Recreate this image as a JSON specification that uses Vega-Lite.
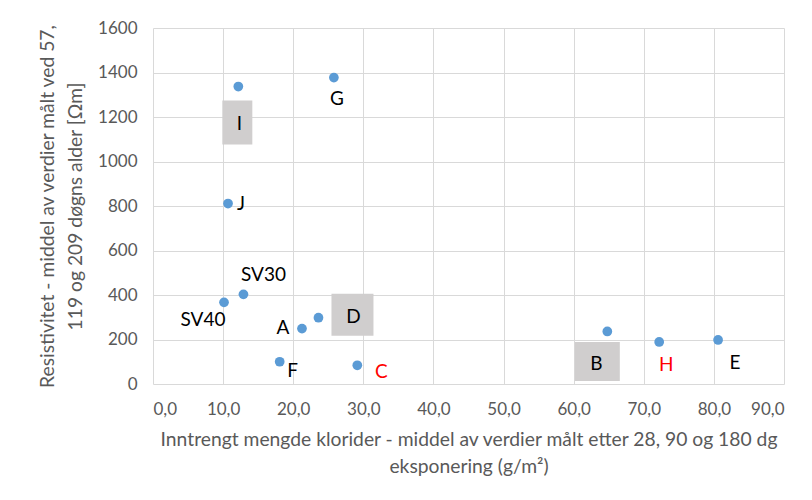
{
  "$schema": "https://vega.github.io/schema/vega-lite/v6.json",
  "autosize": "none",
  "width": 631,
  "height": 356,
  "padding": {"left": 153, "top": 28, "right": 28, "bottom": 116},
  "background": "white",
  "config": {
    "font": "Lato",
    "view": {"stroke": null},
    "axis": {
      "grid": true,
      "gridColor": "#D9D9D9",
      "domain": false,
      "ticks": false,
      "labelColor": "#595959",
      "labelFont": "Lato",
      "labelFontSize": 17,
      "titleColor": "#595959",
      "titleFont": "Lato",
      "titleFontSize": 19.3,
      "titleFontWeight": "normal"
    }
  },
  "data": {
    "values": [
      {"label": "I", "x": 12.17, "y": 1337},
      {"label": "G", "x": 25.8, "y": 1377},
      {"label": "J", "x": 10.7, "y": 811},
      {"label": "SV40", "x": 10.13, "y": 367},
      {"label": "SV30", "x": 12.9, "y": 403},
      {"label": "A", "x": 21.25, "y": 249},
      {"label": "D", "x": 23.6, "y": 298},
      {"label": "F", "x": 18.07, "y": 100},
      {"label": "C", "x": 29.14, "y": 84},
      {"label": "B", "x": 64.8, "y": 236},
      {"label": "H", "x": 72.2, "y": 189},
      {"label": "E", "x": 80.6, "y": 198}
    ]
  },
  "encoding": {
    "x": {
      "field": "x",
      "type": "quantitative",
      "scale": {"domain": [0, 90], "nice": false},
      "axis": {
        "values": [0, 10, 20, 30, 40, 50, 60, 70, 80, 90],
        "labelExpr": "replace(format(datum.value, '.1f'), '.', ',')",
        "labelPadding": 17,
        "titlePadding": 13,
        "titleLineHeight": 27,
        "title": ["Inntrengt mengde klorider - middel av verdier målt etter 28, 90 og 180 dg", "eksponering (g/m²)"]
      }
    },
    "y": {
      "field": "y",
      "type": "quantitative",
      "scale": {"domain": [0, 1600], "nice": false},
      "axis": {
        "values": [0, 200, 400, 600, 800, 1000, 1200, 1400, 1600],
        "format": "d",
        "labelPadding": 16,
        "titlePadding": 12,
        "titleLineHeight": 28,
        "title": ["Resistivitet - middel av verdier målt ved 57,", "119 og 209 døgns alder  [Ωm]"]
      }
    }
  },
  "layer": [
    {"mark": {"type": "point", "filled": true, "opacity": 1, "color": "#5B9BD5", "size": 95}},
    {"transform": [{"filter": "datum.label == 'I'"}], "mark": {"type": "point", "filled": true, "opacity": 1, "color": "#D0CECE", "shape": "M-15,-22H15V22H-15Z", "size": 4, "xOffset": -1, "yOffset": 36}},
    {"transform": [{"filter": "datum.label == 'D'"}], "mark": {"type": "point", "filled": true, "opacity": 1, "color": "#D0CECE", "shape": "M-21,-21H21V21H-21Z", "size": 4, "xOffset": 34, "yOffset": -3}},
    {"transform": [{"filter": "datum.label == 'B'"}], "mark": {"type": "point", "filled": true, "opacity": 1, "color": "#D0CECE", "shape": "M-22.5,-19.5H22.5V19.5H-22.5Z", "size": 4, "xOffset": -10, "yOffset": 30}},
    {"transform": [{"filter": "datum.label == 'I'"}], "mark": {"type": "text", "fontSize": 19, "color": "black", "baseline": "middle", "dx": 1, "dy": 37}, "encoding": {"text": {"field": "label"}}},
    {"transform": [{"filter": "datum.label == 'G'"}], "mark": {"type": "text", "fontSize": 19, "color": "black", "baseline": "middle", "dx": 3, "dy": 21}, "encoding": {"text": {"field": "label"}}},
    {"transform": [{"filter": "datum.label == 'J'"}], "mark": {"type": "text", "fontSize": 19, "color": "black", "baseline": "middle", "dx": 13, "dy": 0}, "encoding": {"text": {"field": "label"}}},
    {"transform": [{"filter": "datum.label == 'SV30'"}], "mark": {"type": "text", "fontSize": 19, "color": "black", "baseline": "middle", "dx": 20, "dy": -19}, "encoding": {"text": {"field": "label"}}},
    {"transform": [{"filter": "datum.label == 'SV40'"}], "mark": {"type": "text", "fontSize": 19, "color": "black", "baseline": "middle", "dx": -21, "dy": 18}, "encoding": {"text": {"field": "label"}}},
    {"transform": [{"filter": "datum.label == 'A'"}], "mark": {"type": "text", "fontSize": 19, "color": "black", "baseline": "middle", "dx": -19, "dy": -1}, "encoding": {"text": {"field": "label"}}},
    {"transform": [{"filter": "datum.label == 'D'"}], "mark": {"type": "text", "fontSize": 19, "color": "black", "baseline": "middle", "dx": 35, "dy": -1}, "encoding": {"text": {"field": "label"}}},
    {"transform": [{"filter": "datum.label == 'F'"}], "mark": {"type": "text", "fontSize": 19, "color": "black", "baseline": "middle", "dx": 13, "dy": 9}, "encoding": {"text": {"field": "label"}}},
    {"transform": [{"filter": "datum.label == 'C'"}], "mark": {"type": "text", "fontSize": 19, "color": "#FF0000", "baseline": "middle", "dx": 24, "dy": 7}, "encoding": {"text": {"field": "label"}}},
    {"transform": [{"filter": "datum.label == 'B'"}], "mark": {"type": "text", "fontSize": 19, "color": "black", "baseline": "middle", "dx": -11, "dy": 33}, "encoding": {"text": {"field": "label"}}},
    {"transform": [{"filter": "datum.label == 'H'"}], "mark": {"type": "text", "fontSize": 19, "color": "#FF0000", "baseline": "middle", "dx": 7, "dy": 23}, "encoding": {"text": {"field": "label"}}},
    {"transform": [{"filter": "datum.label == 'E'"}], "mark": {"type": "text", "fontSize": 19, "color": "black", "baseline": "middle", "dx": 17, "dy": 23}, "encoding": {"text": {"field": "label"}}}
  ]
}
